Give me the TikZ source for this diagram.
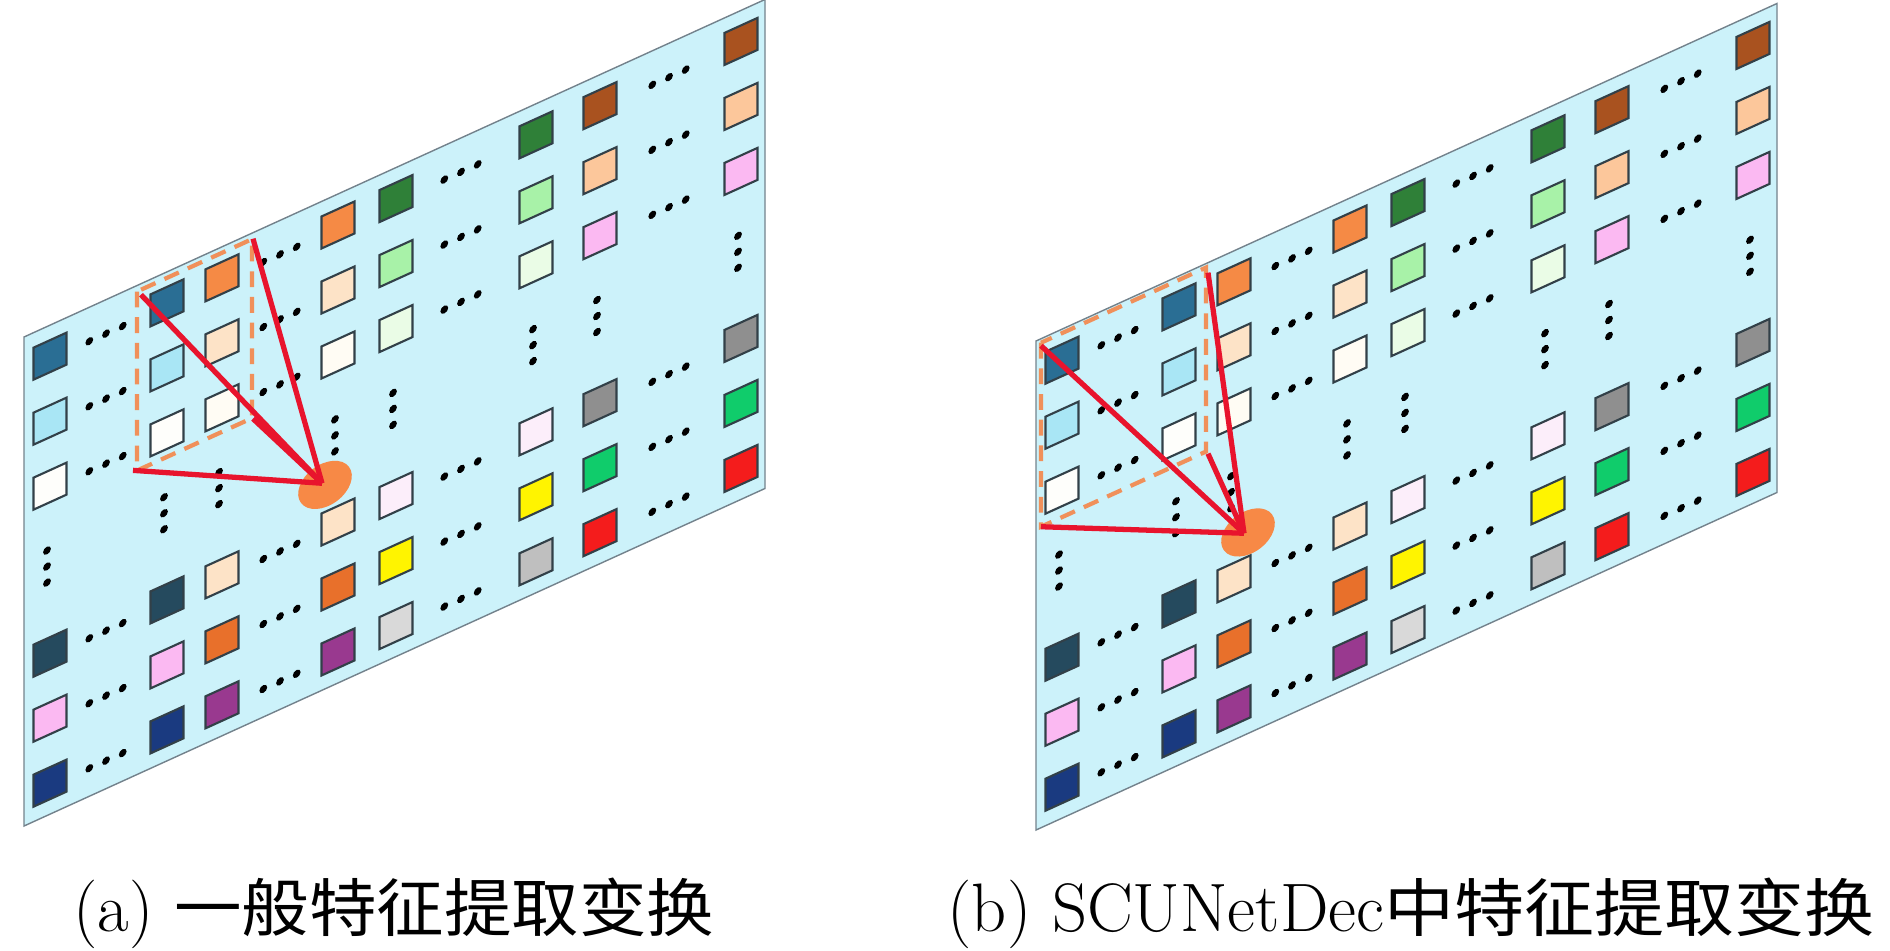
\documentclass[tikz,border=0pt]{standalone}
\usepackage{fontspec}
\usepackage{xcolor}
\usepackage{tikz}
\usetikzlibrary{calc, shapes.geometric, positioning}

\newfontfamily\cjka[Scale=0.92,FakeStretch=1.07]{Noto Sans CJK SC}
\newfontfamily\cjkb[Scale=0.92,FakeStretch=1.11]{Noto Sans CJK SC}

\definecolor{plate}{RGB}{204,242,250}
\definecolor{plateline}{RGB}{115,130,140}
\definecolor{sqline}{RGB}{50,64,72}
\definecolor{sqteal}{RGB}{42,110,148}
\definecolor{sqlblue}{RGB}{169,230,245}
\definecolor{sqwhite}{RGB}{254,254,251}
\definecolor{sqslate}{RGB}{37,74,94}
\definecolor{sqpink}{RGB}{251,185,242}
\definecolor{sqnavy}{RGB}{26,58,128}
\definecolor{sqorange}{RGB}{245,138,69}
\definecolor{sqpeach}{RGB}{253,227,199}
\definecolor{sqcream}{RGB}{255,252,244}
\definecolor{sqdorange}{RGB}{232,112,43}
\definecolor{sqpurple}{RGB}{153,57,143}
\definecolor{sqdgreen}{RGB}{47,128,56}
\definecolor{sqlgreen}{RGB}{168,242,168}
\definecolor{sqvlgreen}{RGB}{234,252,230}
\definecolor{sqlav}{RGB}{252,238,250}
\definecolor{sqyellow}{RGB}{255,244,0}
\definecolor{sqlgray}{RGB}{217,217,217}
\definecolor{sqmgray}{RGB}{191,191,191}
\definecolor{sqbrown}{RGB}{169,82,31}
\definecolor{sqtan}{RGB}{252,199,155}
\definecolor{sqgray}{RGB}{143,143,143}
\definecolor{sqgreen}{RGB}{16,204,107}
\definecolor{sqred}{RGB}{244,28,28}
\definecolor{winorange}{RGB}{240,144,90}
\definecolor{rayred}{RGB}{232,20,45}
\definecolor{spotorange}{RGB}{247,137,70}

\begin{document}
\begin{tikzpicture}[x=0.01cm, y=0.01cm,
        sq/.style={draw=sqline, line width=0.6pt},
        dot/.style={fill=black},
        win/.style={draw=winorange, line width=1.2pt, dash pattern=on 4.5pt off 2.8pt},
        ray/.style={draw=rayred, line width=1.5pt},
        spot/.style={ellipse, fill=spotorange, minimum width=0.6cm, minimum height=0.4cm, inner sep=0pt, rotate=37},
        captext/.style={font=\fontsize{19.5}{23}\selectfont, inner sep=0pt}]
    \useasboundingbox (0,0) rectangle (1890,950);
    % the two feature maps
    \foreach \px/\py in {24/613, 1036/609} {
            \begin{scope}[shift={(\px,\py)}, yslant=0.4555]
                \filldraw[fill=plate, draw=plateline, line width=0.4pt] (0,0) rectangle (741,-489);
                \foreach \cu/\cols in {26/{sqteal,sqlblue,sqwhite,sqslate,sqpink,sqnavy},
                        143/{sqteal,sqlblue,sqwhite,sqslate,sqpink,sqnavy},
                        198/{sqorange,sqpeach,sqcream,sqpeach,sqdorange,sqpurple},
                        314/{sqorange,sqpeach,sqcream,sqpeach,sqdorange,sqpurple},
                        372/{sqdgreen,sqlgreen,sqvlgreen,sqlav,sqyellow,sqlgray},
                        512/{sqdgreen,sqlgreen,sqvlgreen,sqlav,sqyellow,sqmgray},
                        576/{sqbrown,sqtan,sqpink,sqgray,sqgreen,sqred},
                        717/{sqbrown,sqtan,sqpink,sqgray,sqgreen,sqred}} {
                        \foreach \fc [count=\ri] in \cols {
                                \pgfmathsetmacro\rv{31+65*(\ri-1)+102*(\ri>3)}
                                \draw[sq, fill=\fc] (\cu-16.5,-\rv+16) rectangle ++(33,-32);
                            };
                        \foreach \rv in {224,240,256} {
                                \fill[dot] (\cu-3,-\rv) circle (3.9);
                            };
                    };
                \foreach \hx in {82,256,437,645} {
                        \foreach \rv in {34,99,164,331,396,461} {
                                \foreach \dd in {-16.7,0,16.7} {
                                        \fill[dot] (\hx+\dd,-\rv) circle (3.9);
                                    };
                            };
                    };
            \end{scope}
        };
    % (a) window
    \begin{scope}[shift={(24,613)}, yslant=0.4555]
        \draw[win] (113,-6) rectangle (228,-185);
        \coordinate (atl) at (117,-11);
        \coordinate (atr) at (229,-6);
        \coordinate (abl) at (109,-183);
        \coordinate (abr) at (229,-186);
        \node[spot] (fa) at (301,-285) {};
        \coordinate (ca) at (298,-282);
    \end{scope}
    % (b) window
    \begin{scope}[shift={(1036,609)}, yslant=0.4555]
        \draw[win] (5,-4) rectangle (170,-188);
        \coordinate (btl) at (5,-7);
        \coordinate (btr) at (172,-10);
        \coordinate (bbl) at (5,-188);
        \coordinate (bbr) at (172,-191);
        \node[spot] (fb) at (212,-288) {};
        \coordinate (cb) at (208,-287);
    \end{scope}
    \foreach \k in {tl,tr,bl,br} {
            \draw[ray] (a\k) -- (ca);
            \draw[ray] (b\k) -- (cb);
        };
    \node[captext, anchor=base west] (capa) at (73,19) {(a) {\cjka 一般特征提取变换}};
    \node[captext, anchor=base west] (capb) at (947,19) {(b) SCUNetDec{\cjkb 中特征提取变换}};
\end{tikzpicture}
\end{document}
